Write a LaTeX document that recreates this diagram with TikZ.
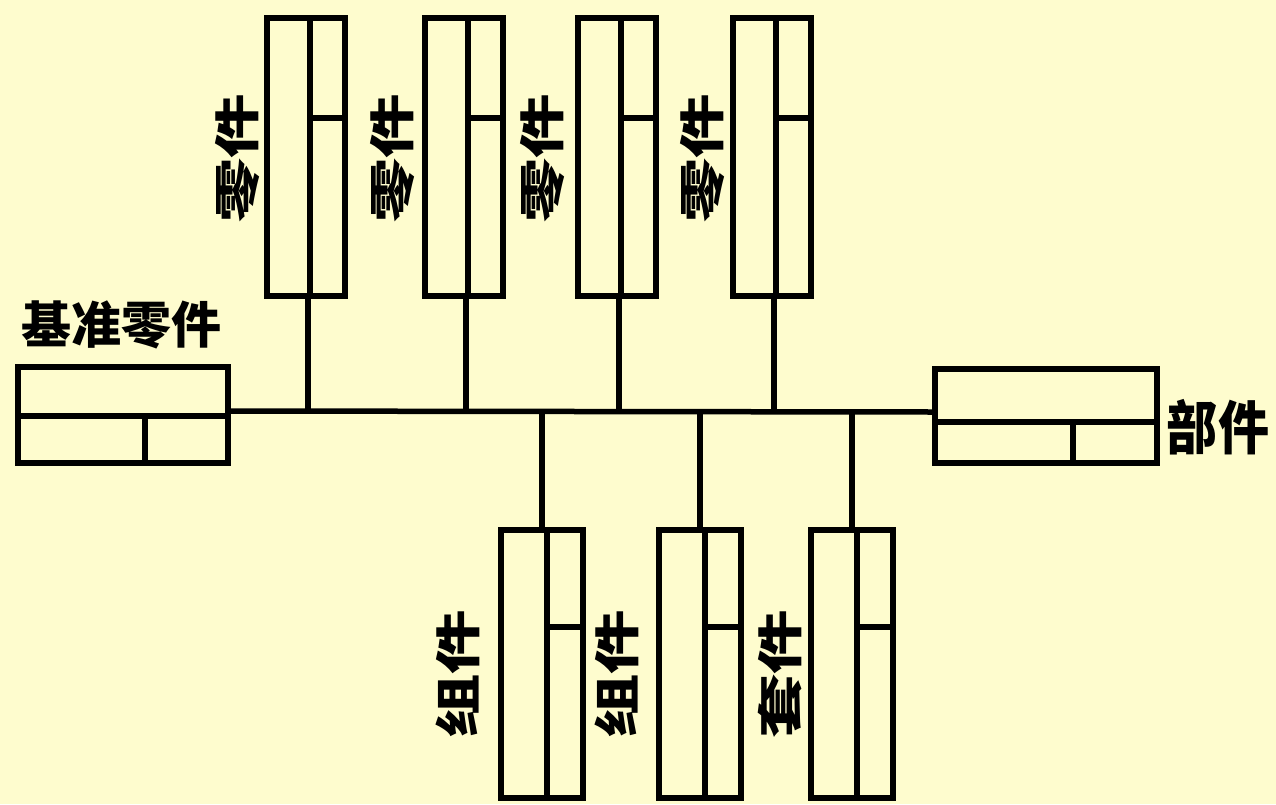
\documentclass[tikz,border=0pt]{standalone}
\usepackage{fontspec}
\newfontfamily\cjk{Noto Sans CJK SC}
\definecolor{bg}{RGB}{254,252,206}
\begin{document}
\begin{tikzpicture}[x=1pt,y=-1pt,line width=5.5pt,
  box/.style={draw,rectangle,outer sep=0pt,inner sep=0pt},
  topbox/.style={box,minimum width=78pt,minimum height=278pt},
  botbox/.style={box,minimum width=82pt,minimum height=268pt},
  sidebox/.style={box,minimum width=210pt,minimum height=96pt},
  lab/.style={inner sep=0pt,font=\cjk\bfseries\fontsize{46}{46}\selectfont},
  vlab/.style={lab,rotate=90},
  conn/.style={draw}]
\fill[bg] (0,0) rectangle (1276,804);
\useasboundingbox (0,0) rectangle (1276,804);

% side boxes
\node[sidebox] (L) at (123,415) {};
\node[sidebox,minimum width=222pt,minimum height=94pt] (R) at (1046,416) {};
\draw ([yshift=-49pt]L.north west) -- ([yshift=-49pt]L.north east);
\draw ([xshift=127pt,yshift=-49pt]L.north west) -- ([xshift=127pt]L.south west);
\draw ([yshift=-53pt]R.north west) -- ([yshift=-53pt]R.north east);
\draw ([xshift=138pt,yshift=-53pt]R.north west) -- ([xshift=138pt]R.south west);

% bus
\coordinate (busL) at ([yshift=4pt]L.east);
\coordinate (busR) at ([yshift=4pt]R.west);
\draw[conn] (busL) -- (busR);

% top boxes
\foreach \n/\x/\lx in {t1/306/237,t2/464/392,t3/617/542,t4/772/702}{
  \node[topbox] (\n) at (\x,157) {};
  \draw ([xshift=4pt]\n.north) -- ([xshift=4pt]\n.south);
  \draw ([xshift=4pt,yshift=-100pt]\n.north) -- ([yshift=-100pt]\n.north east);
  \coordinate (\n b) at ([xshift=2pt]\n.south |- busL);
  \draw[conn] ([xshift=2pt]\n.south) -- (\n b);
  \node[vlab] (\n l) at (\lx,158) {\scalebox{1.4}[1]{零件}};
}

% bottom boxes
\foreach \n/\x/\lx/\t in {b1/542/458/组件,b2/700/617/组件,b3/852/780/套件}{
  \node[botbox] (\n) at (\x,664) {};
  \draw ([xshift=5pt]\n.north) -- ([xshift=5pt]\n.south);
  \draw ([xshift=5pt,yshift=-97pt]\n.north) -- ([yshift=-97pt]\n.north east);
  \coordinate (\n b) at (\n.north |- busL);
  \draw[conn] (\n.north) -- (\n b);
  \node[vlab] (\n l) at (\lx,674) {\scalebox{1.4}[1]{\t}};
}

% labels
\node[lab,font=\cjk\bfseries\fontsize{50}{50}\selectfont] (Ll) at (121,325) {基准零件};
\node[lab,font=\cjk\bfseries\fontsize{58}{58}\selectfont] (Rl) at (1218,427) {\scalebox{0.88}[1]{部件}};
\end{tikzpicture}
\end{document}
